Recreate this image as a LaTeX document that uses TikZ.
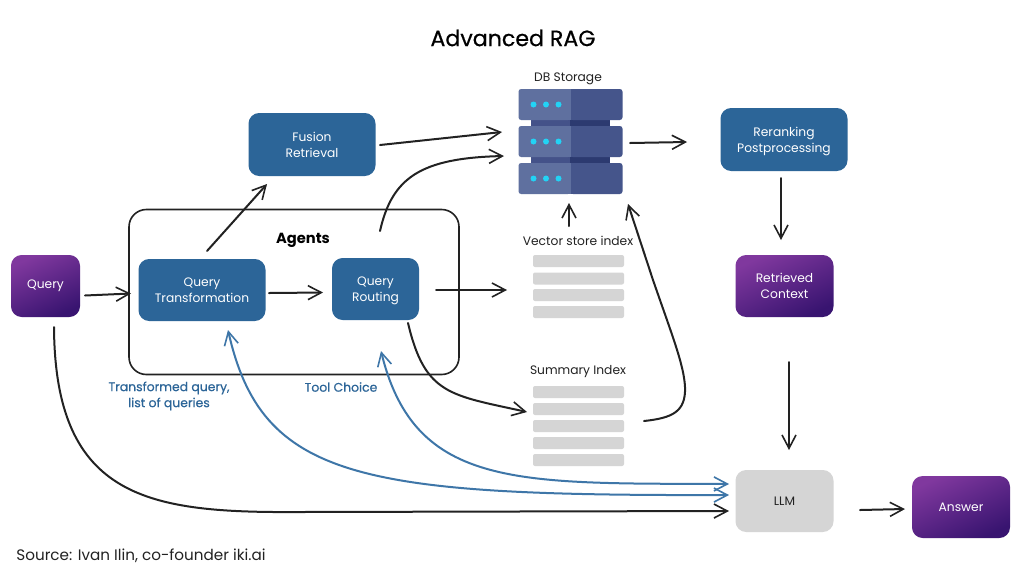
\documentclass[tikz,border=0pt]{standalone}
\usepackage{fontspec}
\setmainfont{Poppins}
\newfontfamily\popmed[FakeBold=0.5]{Poppins}
\usetikzlibrary{arrows.meta,shadings}
\definecolor{boxblue}{HTML}{2C6598}
\definecolor{dark}{HTML}{222222}
\definecolor{linkblue}{HTML}{3E76A8}
\definecolor{purpA}{HTML}{80389E}
\definecolor{purpB}{HTML}{381470}
\definecolor{greybar}{HTML}{D5D5D5}
\definecolor{srvL}{HTML}{5F709F}
\definecolor{srvR}{HTML}{45558B}
\definecolor{srvML}{HTML}{445289}
\definecolor{srvMR}{HTML}{2C3A70}
\definecolor{dotc}{HTML}{22D3F5}
\newcommand{\PX}{0.75pt}
\tikzset{x=\PX,y=-\PX,
 nudge/.style={execute at begin node={\vspace*{1.5pt}}},
 bluebox/.style={rounded corners=8pt,fill=boxblue,text=white,align=center,font=\fontsize{9.2}{12}\selectfont,inner sep=0pt,text depth=0pt},
 purpbox/.style={rounded corners=8pt,top color=purpA,bottom color=purpB,shading angle=25,text=white,align=center,font=\fontsize{9.2}{12}\selectfont,inner sep=0pt},
 greybox/.style={rounded corners=8pt,fill=greybar,text=dark,align=center,font=\fontsize{9.2}{12}\selectfont,inner sep=0pt},
 lab/.style={text=dark,font=\fontsize{9.2}{12}\selectfont,inner sep=0pt},
 bluelab/.style={text=boxblue,align=center,font=\fontsize{9.3}{12}\selectfont\popmed,inner sep=0pt},
 bar/.style={fill=greybar,rounded corners=1.5pt},
 conn/.style={draw=dark,line width=1.5pt,-{Straight Barb[length=10pt,width=10.5pt,line width=1.2pt]},line cap=round},
 bconn/.style={draw=linkblue,line width=1.5pt,{Straight Barb[length=10pt,width=10.5pt,line width=1.2pt]}-{Straight Barb[length=10pt,width=10.5pt,line width=1.2pt]},line cap=round},
 srv/.pic={
  \fill[srvL,rounded corners=2pt] (0,0) rectangle (52,31);
  \fill[srvR,rounded corners=2pt] (52,0) rectangle (104,31);
  \fill[srvL] (48,0) rectangle (52,31);
  \fill[srvR] (52,0) rectangle (56,31);
  \fill[dotc] (15,15.5) circle (3) (27.5,15.5) circle (3) (40,15.5) circle (3);
 }}
\begin{document}
\begin{tikzpicture}
\useasboundingbox (0,0) rectangle (1024,576);
\fill[white] (0,0) rectangle (1024,576);
\node[text=black,font=\fontsize{16.6}{20}\selectfont\popmed] (title) at (513,38) {Advanced RAG};
\node[draw=dark,line width=1.2pt,rounded corners=13pt,minimum width=330*\PX,minimum height=165*\PX,inner sep=0pt] (agents) at (294,292) {};
\node[font=\fontsize{11}{12}\selectfont\bfseries,text=black,inner sep=0pt] (agentslab) at (303,240) {Agents};
\node[purpbox,nudge,minimum width=69*\PX,minimum height=62*\PX] (query) at (45.5,286) {Query};
\node[bluebox,nudge,minimum width=127*\PX,minimum height=62*\PX] (qt) at (202,290) {Query\\Transformation};
\node[bluebox,minimum width=87*\PX,minimum height=62*\PX] (qr) at (375.5,289) {Query\\Routing};
\node[bluebox,minimum width=127*\PX,minimum height=63*\PX] (fr) at (312,144.5) {Fusion\\Retrieval};
\node[bluebox,nudge,minimum width=127*\PX,minimum height=63*\PX] (rr) at (784,139.5) {Reranking\\Postprocessing};
\node[purpbox,nudge,minimum width=98*\PX,minimum height=62*\PX] (rc) at (784.5,286) {Retrieved\\Context};
\node[greybox,minimum width=98*\PX,minimum height=62*\PX] (llm) at (784.5,501) {LLM};
\node[purpbox,minimum width=98*\PX,minimum height=62*\PX] (ans) at (961,507) {Answer};
\node[lab] (dbl) at (568,78.5) {DB Storage};
\node[lab] (vsl) at (578,241) {Vector store index};
\node[lab] (sil) at (578,372) {Summary Index};
\fill[srvML] (531,115) rectangle (570,170);
\fill[srvMR] (570,115) rectangle (610,170);
\pic at (518.5,89) {srv};
\pic at (518.5,126) {srv};
\pic at (518.5,163) {srv};
\foreach \y in {261,278.5,295,312}{\fill[bar] (533,\y-6) rectangle (624,\y+6);}
\foreach \y in {392,409,426,443,460}{\fill[bar] (533,\y-6) rectangle (624,\y+6);}
\node[bluelab] (tq) at (169,396) {Transformed query,\\list of queries};
\node[bluelab] (tc) at (341,387) {Tool Choice};
\node[lab,font=\fontsize{11.4}{14}\selectfont] (src) at (141,556) {Source: Ivan Ilin, co-founder iki.ai};
\draw[conn] (85,295.5) -- (131,293.5);
\draw[conn] (269,293) -- (323,292.5);
\draw[conn] (207,251) -- (267,184);
\draw[conn] (380,145) -- (502,132);
\draw[conn] (380,231) .. controls (392,178) and (420,158) .. (504,156);
\draw[conn] (436,290) -- (507,290);
\draw[conn] (408,323) .. controls (425,395) and (450,395) .. (527,412);
\draw[conn] (569,226) -- (569,203);
\draw[conn] (644,421) .. controls (672,418) and (686,412) .. (685,387) .. controls (684,365) and (672,335) .. (653,280) -- (628,204);
\draw[conn] (630,143) -- (687,142);
\draw[conn] (781,178) -- (781,240);
\draw[conn] (789,362) -- (789,450);
\draw[conn] (860,510) -- (905,509);
\draw[conn] (54,327) .. controls (55,500) and (150,513) .. (300,512) -- (729,511);
\draw[bconn] (228,330) .. controls (262,480) and (360,496) .. (729,495);
\draw[bconn] (381,351) .. controls (415,490) and (520,483) .. (729,484);
\end{tikzpicture}
\end{document}
